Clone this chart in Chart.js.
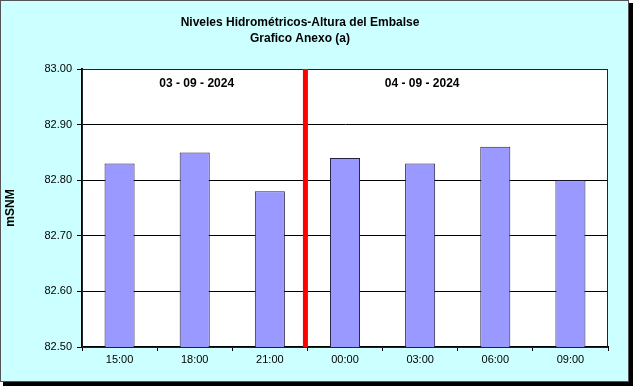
<!DOCTYPE html>
<html>
<head>
<meta charset="utf-8">
<script src="https://cdn.jsdelivr.net/npm/chart.js@4/dist/chart.umd.min.js"></script>
<style>
  html, body { margin: 0; padding: 0; background: #fff; }
  canvas { display: block; }
</style>
</head>
<body>
<canvas id="chart" width="633" height="386"></canvas>
<script>
// data
const horas = ['15:00', '18:00', '21:00', '00:00', '03:00', '06:00', '09:00'];
const alturas = [82.83, 82.85, 82.78, 82.84, 82.83, 82.86, 82.80];
const fechas = ['03 - 09 - 2024', '04 - 09 - 2024'];
const fechaPos = [1, 4];        // category index under which each date sits
const cambioDia = 2.5;          // red divider between 21:00 and 00:00
const titulo = ['Niveles Hidrométricos-Altura del Embalse', 'Grafico Anexo (a)'];
const ejeY = 'mSNM';

const FONT = '"Liberation Sans", Arial, sans-serif';

const decor = {
    id: 'decor',
    beforeDraw(chart) {
        const { ctx, width, height, chartArea: a } = chart;
        ctx.save();
        // background + frame with shadow on right/bottom
        ctx.fillStyle = '#000';
        ctx.fillRect(3, 3, width - 3, height - 3);
        ctx.fillStyle = '#CCFFFF';
        ctx.fillRect(0, 0, width - 4, height - 4);
        ctx.strokeStyle = '#555';
        ctx.lineWidth = 1;
        ctx.strokeRect(0.5, 0.5, width - 5, height - 5);
        // plot area
        ctx.fillStyle = '#fff';
        ctx.fillRect(a.left, a.top, a.right - a.left, a.bottom - a.top);
        ctx.restore();
    },
    beforeDatasetsDraw(chart) {
        const { ctx, chartArea: a } = chart;
        ctx.save();
        ctx.strokeStyle = '#222';
        ctx.lineWidth = 1;
        ctx.strokeRect(Math.round(a.left) + 0.5, Math.round(a.top) + 0.5,
            Math.round(a.right - a.left) - 1, Math.round(a.bottom - a.top));
        ctx.restore();
    },
    afterDatasetsDraw(chart) {
        const { ctx, chartArea: a, scales: { x } } = chart;
        const px = (x.getPixelForValue(Math.floor(cambioDia)) + x.getPixelForValue(Math.ceil(cambioDia))) / 2;
        ctx.save();
        ctx.strokeStyle = '#FF0000';
        ctx.lineWidth = 5;
        ctx.beginPath();
        ctx.moveTo(px - 2, a.top);
        ctx.lineTo(px - 2, a.bottom);
        ctx.stroke();
        ctx.restore();
    },
    afterDraw(chart) {
        const { ctx, chartArea: a, scales: { x } } = chart;
        ctx.save();
        ctx.fillStyle = '#000';
        ctx.textAlign = 'center';
        ctx.textBaseline = 'middle';
        ctx.font = 'bold 12px ' + FONT;
        ctx.fillText(titulo[0], 300, 23);
        ctx.fillText(titulo[1], 300, 39);
        fechas.forEach((f, i) => {
            ctx.fillText(f, x.getPixelForValue(fechaPos[i]) + 2, a.top + 15);
        });
        ctx.translate(11, (a.top + a.bottom) / 2);
        ctx.rotate(-Math.PI / 2);
        ctx.fillText(ejeY, 0, 0);
        ctx.restore();
    }
};

new Chart(document.getElementById('chart'), {
    type: 'bar',
    data: {
        labels: horas,
        datasets: [{
            data: alturas,
            backgroundColor: '#9999FF',
            borderColor: '#222244',
            borderWidth: 1,
            borderSkipped: 'bottom',
            barPercentage: 0.4,
            categoryPercentage: 1.0
        }]
    },
    options: {
        responsive: false,
        devicePixelRatio: 1,
        animation: false,
        layout: { padding: { top: 69, right: 25, left: 0, bottom: 0 } },
        plugins: {
            legend: { display: false },
            title: { display: false },
            tooltip: { enabled: false }
        },
        scales: {
            x: {
                offset: true,
                grid: { display: true, offset: true, drawOnChartArea: false, tickLength: 4, color: '#000' },
                border: { display: true, color: '#000', width: 2 },
                ticks: { color: '#000', font: { family: FONT, size: 11 }, padding: 2, maxRotation: 0 },
                afterFit(s) { s.height = 39; }
            },
            y: {
                min: 82.5,
                max: 83.0,
                ticks: {
                    stepSize: 0.1,
                    color: '#000',
                    padding: 5,
                    font: { family: FONT, size: 11 },
                    callback: v => Number(v).toFixed(2)
                },
                grid: { color: '#000', lineWidth: 1, tickLength: 5, tickColor: '#000' },
                border: { display: true, color: '#000', width: 2 },
                afterFit(s) { s.width = 82; }
            }
        }
    },
    plugins: [decor]
});
</script>
</body>
</html>
